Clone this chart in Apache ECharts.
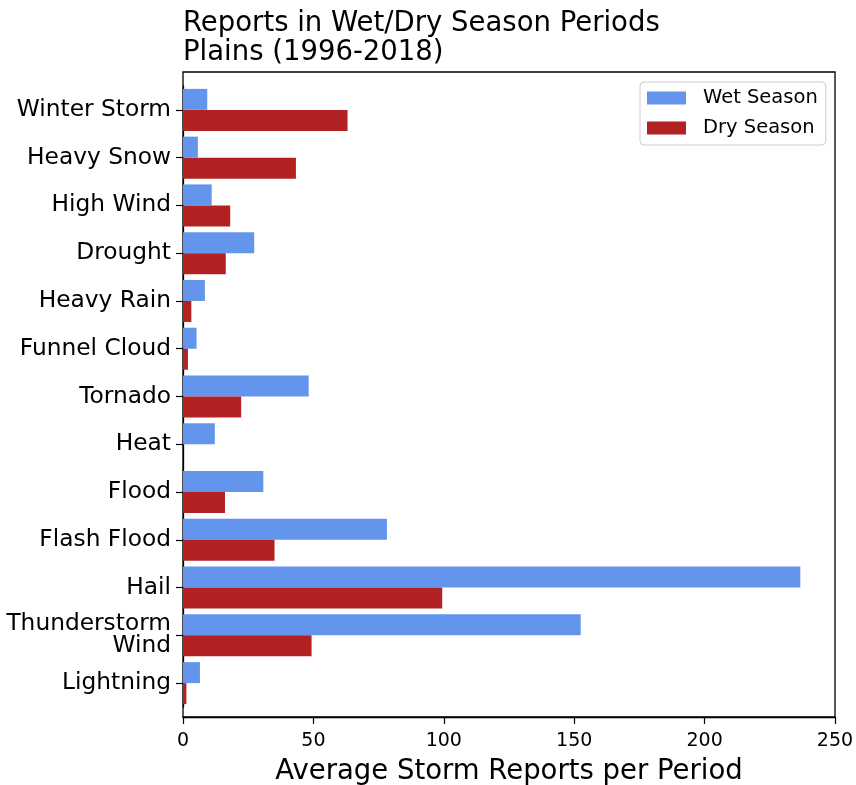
<!DOCTYPE html>
<html>
<head>
<meta charset="utf-8">
<script src="https://cdn.jsdelivr.net/npm/echarts@6/dist/echarts.min.js"></script>
<style>
html,body{margin:0;padding:0;background:#fff;}
#chart{width:856px;height:785px;}
</style>
</head>
<body>
<div id="chart"></div>
<script>
var categories = ['Winter Storm','Heavy Snow','High Wind','Drought','Heavy Rain','Funnel Cloud','Tornado','Heat','Flood','Flash Flood','Hail','Thunderstorm\nWind','Lightning'];
var wetSeason = [9.3,5.7,11.0,27.3,8.4,5.2,48.2,12.2,30.8,78.2,236.7,152.5,6.5];
var drySeason = [63.1,43.3,18.1,16.4,3.2,1.9,22.3,0,16.1,35.1,99.4,49.3,1.3];
var xTicks = {min:0, max:250, interval:50};
var titleLines = ['Reports in Wet/Dry Season Periods','Plains (1996-2018)'];
var xAxisTitle = 'Average Storm Reports per Period';
var seriesNames = ['Wet Season','Dry Season'];

var FONT = 'DejaVu Sans';
var chart = echarts.init(document.getElementById('chart'), null, {renderer:'canvas'});
chart.setOption({
  animation:false,
  backgroundColor:'#fff',
  textStyle:{fontFamily:FONT},
  title:{
    text:titleLines.join('\n'),
    left:178, top:4,
    textStyle:{fontFamily:FONT, fontSize:27.5, fontWeight:'normal', color:'#000', lineHeight:29}
  },
  legend:{
    orient:'vertical',
    left:640, top:82,
    padding:[6,8,7,7],
    itemWidth:39, itemHeight:13, itemGap:10,
    icon:'rect',
    borderColor:'#cccccc', borderWidth:1, borderRadius:4,
    backgroundColor:'#fff',
    textStyle:{fontFamily:FONT, fontSize:19.5, color:'#000', padding:[0,0,0,12]},
    data:seriesNames
  },
  grid:[
    {left:183, right:21, top:86, bottom:78, containLabel:false, outerBoundsMode:'none'},
    {left:183, right:21, top:72, bottom:68, show:true, borderColor:'#000', borderWidth:1.3, backgroundColor:'transparent', z:0, outerBoundsMode:'none'}
  ],
  xAxis:[
    {
      type:'value', gridIndex:0, min:xTicks.min, max:xTicks.max, interval:xTicks.interval,
      offset:10,
      axisLine:{show:true, lineStyle:{color:'#000', width:1.3}},
      axisTick:{show:true, length:7, lineStyle:{color:'#000', width:1.2}},
      axisLabel:{fontFamily:FONT, fontSize:19, color:'#000', margin:15},
      splitLine:{show:false},
      name:xAxisTitle, nameLocation:'middle', nameGap:41,
      nameTextStyle:{fontFamily:FONT, fontSize:27.5, color:'#000'}
    },
    {type:'value', gridIndex:1, show:false, min:0, max:1}
  ],
  yAxis:[
    {
      type:'category', gridIndex:0, data:categories, inverse:true,
      axisLine:{show:true, lineStyle:{color:'#000', width:1.3}},
      axisTick:{show:true, alignWithLabel:true, length:7, lineStyle:{color:'#000', width:1.2}},
      axisLabel:{fontFamily:FONT, fontSize:23.3, color:'#000', margin:12, lineHeight:22, align:'right'},
      splitLine:{show:false}
    },
    {type:'value', gridIndex:1, show:false, min:0, max:1}
  ],
  series:[
    {name:seriesNames[0], type:'bar', xAxisIndex:0, yAxisIndex:0, data:wetSeason,
     barWidth:21, barGap:'0%', itemStyle:{color:'#6495ED'}},
    {name:seriesNames[1], type:'bar', xAxisIndex:0, yAxisIndex:0, data:drySeason,
     barWidth:21, barGap:'0%', itemStyle:{color:'#B22222'}}
  ]
});
</script>
</body>
</html>
